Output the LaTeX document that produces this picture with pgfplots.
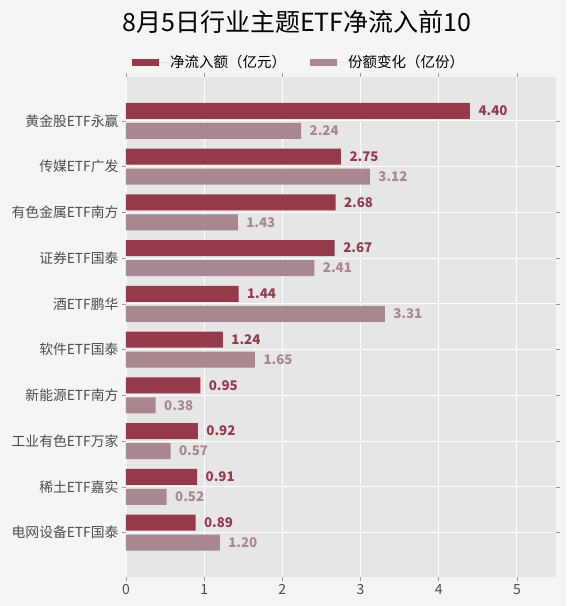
\documentclass[border=0pt]{standalone}
\usepackage{pgfplots}
\pgfplotsset{compat=1.18}
\usepackage{fontspec}
\setmainfont{Noto Sans CJK SC}
\definecolor{outerbg}{HTML}{F5F5F5}
\definecolor{plotbg}{HTML}{E6E6E6}
\definecolor{darkbar}{HTML}{953A4B}
\definecolor{lightbar}{HTML}{A9878F}
\definecolor{ticktext}{HTML}{4D4D4D}
\begin{document}
\begin{tikzpicture}[x=1pt,y=1pt]
\fill[outerbg] (0,0) rectangle (566,606);
\node[font=\fontsize{25}{29}\selectfont, text=black] at (297,584) {8月5日行业主题ETF净流入前10};
\begin{axis}[
  at={(126pt,29pt)}, anchor=south west,
  scale only axis, width=430pt, height=500.5pt,
  xmin=0, xmax=5.5, ymin=-0.97, ymax=9.97,
  xtick={0,1,2,3,4,5},
  ytick={0,1,2,3,4,5,6,7,8,9},
  yticklabels={电网设备ETF国泰,稀土ETF嘉实,工业有色ETF万家,新能源ETF南方,软件ETF国泰,酒ETF鹏华,证券ETF国泰,有色金属ETF南方,传媒ETF广发,黄金股ETF永赢},
  grid=major,
  grid style={white, line width=0.9pt},
  axis background/.style={fill=plotbg},
  axis line style={draw=none},
  tick align=outside,
  major tick length=4pt,
  tick style={draw=gray!80, line width=0.6pt},
  xticklabel style={font=\fontsize{14}{16}\selectfont, text=ticktext},
  yticklabel style={font=\fontsize{13.8}{16}\selectfont, text=ticktext},
  /pgf/number format/assume math mode=true,
  xbar, bar width=16pt,
  legend columns=2,
  legend style={at={(0.014,1.028)}, anchor=west, draw=none, fill=none, inner sep=0pt,
    nodes={inner sep=0pt},
    font=\fontsize{14.5}{16}\selectfont, /tikz/every even column/.append style={column sep=24pt}},
  legend image code/.code={\fill[#1] (0pt,-3.5pt) rectangle (27pt,3.5pt); \path (0pt,0pt) -- (38pt,0pt);},
  nodes near coords={\pgfmathprintnumber[fixed,zerofill,precision=2,assume math mode=true]{\pgfplotspointmeta}},
  point meta=x,
]
\addplot[fill=darkbar, draw=none, bar shift=10pt,
  nodes near coords style={font=\bfseries\fontsize{13.3}{15}\selectfont, text=darkbar, anchor=west, xshift=5pt}]
  coordinates {(0.89,0) (0.91,1) (0.92,2) (0.95,3) (1.24,4) (1.44,5) (2.67,6) (2.68,7) (2.75,8) (4.40,9)};
\addlegendentry{净流入额（亿元）}
\addplot[fill=lightbar, draw=none, bar shift=-10pt,
  nodes near coords style={font=\bfseries\fontsize{13.3}{15}\selectfont, text=lightbar, anchor=west, xshift=5pt}]
  coordinates {(1.20,0) (0.52,1) (0.57,2) (0.38,3) (1.65,4) (3.31,5) (2.41,6) (1.43,7) (3.12,8) (2.24,9)};
\addlegendentry{份额变化（亿份）}
\end{axis}
\end{tikzpicture}
\end{document}
